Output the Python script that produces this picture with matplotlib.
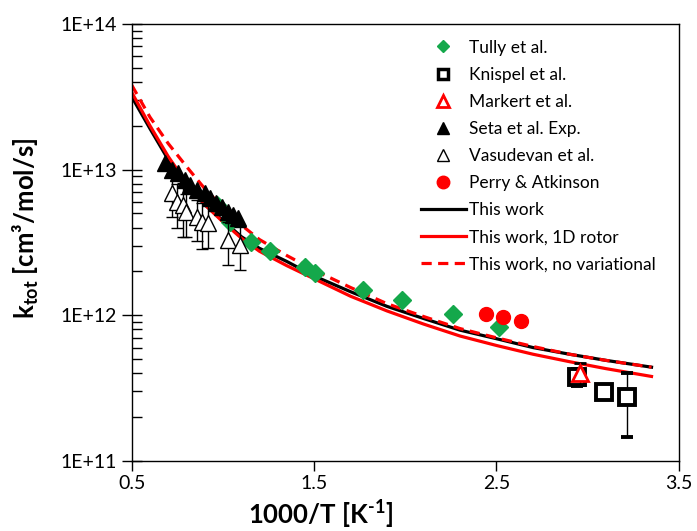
import numpy as np
import matplotlib
matplotlib.use("Agg")
import matplotlib.pyplot as plt
from matplotlib.lines import Line2D
from matplotlib.ticker import FixedLocator, FuncFormatter, NullFormatter

plt.rcParams['font.family'] = ['Lato', 'DejaVu Sans']
plt.rcParams['mathtext.fontset'] = 'custom'
plt.rcParams['mathtext.rm'] = 'Lato:bold'
plt.rcParams['mathtext.bf'] = 'Lato:bold'

# experimental data
tully_x = [0.966, 1.04, 1.153, 1.257, 1.449, 1.504, 1.767, 1.981, 2.261, 2.513]
tully_k = [5.7e12, 4.4e12, 3.19e12, 2.77e12, 2.15e12, 1.95e12, 1.49e12, 1.28e12, 1.02e12, 8.3e11]

knispel_x = [2.941, 3.089, 3.215]
knispel_k = [3.78e11, 2.98e11, 2.75e11]
knispel_err = [0.5e11, 0.0, 1.29e11]

markert_x = [2.957]
markert_k = [4.0e11]
markert_err = [0.7e11]

seta_x = [0.681, 0.719, 0.752, 0.791, 0.818, 0.857, 0.900, 0.928, 0.961, 0.994, 1.027, 1.054, 1.081]
seta_k = [1.11e13, 9.95e12, 9.5e12, 8.5e12, 7.85e12, 7.26e12, 6.9e12, 6.4e12, 5.9e12, 5.55e12,
          5.1e12, 4.9e12, 4.65e12]

vasu_x = [0.719, 0.747, 0.780, 0.796, 0.857, 0.884, 0.917, 1.027, 1.092]
vasu_k = [6.9e12, 6.0e12, 5.73e12, 5.13e12, 4.73e12, 4.37e12, 4.3e12, 3.3e12, 3.04e12]
vasu_err = [2.2e12, 2.0e12, 2.3e12, 1.7e12, 1.5e12, 1.5e12, 1.4e12, 1.1e12, 1.0e12]

perry_x = [2.442, 2.535, 2.634]
perry_k = [1.02e12, 9.8e11, 9.2e11]

# model curves
model_x = [0.5, 0.6, 0.7, 0.8, 0.9, 1.0, 1.1, 1.2, 1.35, 1.5, 1.7, 1.9, 2.1, 2.3, 2.5, 2.7,
           2.9, 3.1, 3.35]
k_work = [3.16e13, 1.91e13, 1.17e13, 7.9e12, 5.75e12, 4.47e12, 3.47e12, 2.88e12, 2.34e12,
          1.86e12, 1.45e12, 1.15e12, 9.5e11, 7.9e11, 6.9e11, 6.0e11, 5.4e11, 4.9e11, 4.4e11]
k_rotor = [3.39e13, 2.0e13, 1.23e13, 8.1e12, 5.75e12, 4.37e12, 3.39e12, 2.75e12, 2.19e12,
           1.78e12, 1.35e12, 1.07e12, 8.7e11, 7.2e11, 6.2e11, 5.4e11, 4.8e11, 4.3e11, 3.8e11]
k_novar = [3.8e13, 2.29e13, 1.51e13, 1.05e13, 7.4e12, 5.5e12, 4.17e12, 3.31e12, 2.57e12,
           2.04e12, 1.55e12, 1.2e12, 9.8e11, 8.1e11, 7.0e11, 6.1e11, 5.4e11, 4.9e11, 4.4e11]

green = '#14A84B'
dash = (0, (3.2, 2.0))

fig = plt.figure(figsize=(6.97, 5.31), dpi=100)
ax = fig.add_axes([0.189, 0.132, 0.785, 0.823])

ax.plot(model_x, k_work, color='k', lw=2.3, zorder=2)
ax.plot(model_x, k_rotor, color='red', lw=2.3, zorder=2)
ax.plot(model_x, k_novar, color='red', lw=2.3, ls=dash, zorder=2)

ax.plot(tully_x, tully_k, ls='none', marker='D', ms=9, color=green, zorder=3)
ax.errorbar(knispel_x, knispel_k, yerr=knispel_err, fmt='s', ms=11, mfc='white', mec='k', mew=2.8,
            ecolor='k', elinewidth=1, capsize=4, capthick=1, zorder=3)
ax.errorbar(markert_x, markert_k, yerr=markert_err, fmt='^', ms=11, mfc='white', mec='red', mew=2,
            ecolor='k', elinewidth=1, capsize=4, capthick=1, zorder=4)
ax.plot(seta_x, seta_k, ls='none', marker='^', ms=11.5, color='k', zorder=4)
ax.errorbar(vasu_x, vasu_k, yerr=vasu_err, fmt='^', ms=12, mfc='white', mec='k', mew=1,
            ecolor='k', elinewidth=1, capsize=4, capthick=1, zorder=5)
ax.plot(perry_x, perry_k, ls='none', marker='o', ms=10, color='red', zorder=3)

ax.set_yscale('log')
ax.set_xlim(0.5, 3.5)
ax.set_ylim(1e11, 1e14)
ax.xaxis.set_major_locator(FixedLocator([0.5, 1.5, 2.5, 3.5]))
ax.xaxis.set_major_formatter(FuncFormatter(lambda v, p: '%.1f' % v))
ax.yaxis.set_major_formatter(FuncFormatter(lambda v, p: '1E+%d' % round(np.log10(v))))
ax.yaxis.set_minor_formatter(NullFormatter())
ax.tick_params(axis='x', which='major', direction='out', length=7, width=1, labelsize=14, pad=3)
ax.tick_params(axis='y', which='major', direction='inout', length=14, width=1, labelsize=14)
ax.tick_params(axis='y', which='minor', direction='in', length=7, width=1)
for s in ax.spines.values():
    s.set_linewidth(1)

ax.set_xlabel('1000/T [K$^{\\text{-1}}$]', fontsize=18.5, fontweight='bold')
ax.xaxis.set_label_coords(0.345, -0.085)
ax.set_ylabel('k$_{\\text{tot}}$ [cm³/mol/s]', fontsize=18.5, fontweight='bold')
ax.yaxis.set_label_coords(-0.165, 0.533)

handles = [
    Line2D([], [], ls='none', marker='D', ms=6.5, color=green),
    Line2D([], [], ls='none', marker='s', ms=7, mfc='white', mec='k', mew=2.5),
    Line2D([], [], ls='none', marker='^', ms=8, mfc='white', mec='red', mew=2),
    Line2D([], [], ls='none', marker='^', ms=8.5, color='k'),
    Line2D([], [], ls='none', marker='^', ms=8.5, mfc='white', mec='k', mew=1),
    Line2D([], [], ls='none', marker='o', ms=9, color='red'),
    Line2D([], [], color='k', lw=2.3),
    Line2D([], [], color='red', lw=2.3),
    Line2D([], [], color='red', lw=2.3, ls=dash),
]
labels = ['Tully et al.', 'Knispel et al.', 'Markert et al.', 'Seta et al. Exp.', 'Vasudevan et al.',
          'Perry & Atkinson', 'This work', 'This work, 1D rotor', 'This work, no variational']
ax.legend(handles, labels, loc='upper left', bbox_to_anchor=(0.5, 1.0), frameon=False,
          fontsize=12.5, handlelength=2.6, handletextpad=0.15, labelspacing=0.64)

fig.savefig('out.png', dpi=100)
